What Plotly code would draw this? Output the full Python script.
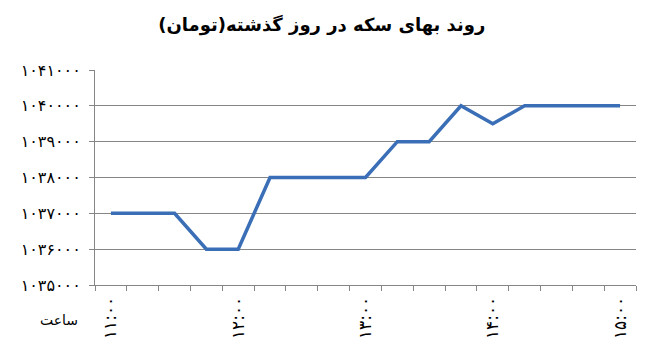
import plotly.graph_objects as go

times = ["11:00", "11:15", "11:30", "11:45", "12:00", "12:15", "12:30", "12:45",
         "13:00", "13:15", "13:30", "13:45", "14:00", "14:15", "14:30", "14:45", "15:00"]
prices = [1037000, 1037000, 1037000, 1036000, 1036000, 1038000, 1038000, 1038000,
          1038000, 1039000, 1039000, 1040000, 1039500, 1040000, 1040000, 1040000, 1040000]
y_ticks = [1035000, 1036000, 1037000, 1038000, 1039000, 1040000, 1041000]
title = "روند بهای سکه در روز گذشته(تومان)"
x_title = "ساعت"

fa = str.maketrans("0123456789", "۰۱۲۳۴۵۶۷۸۹")
def to_fa(s):
    return str(s).translate(fa)

xs = list(range(len(times)))
label_idx = xs[::4]

fig = go.Figure()
fig.add_trace(go.Scatter(x=xs, y=prices, mode="lines",
                         line=dict(color="#3A6EB6", width=3.5), hoverinfo="skip"))

fig.update_layout(
    width=650, height=351,
    margin=dict(l=95, r=14, t=70, b=66),
    paper_bgcolor="white", plot_bgcolor="white",
    showlegend=False,
    title=dict(text="<b>" + title + "</b>", x=0.495, xanchor="center", y=0.93, yanchor="middle",
               font=dict(family="DejaVu Sans", size=18, color="#000000")),
    font=dict(family="DejaVu Sans", color="#000000"),
)
fig.update_xaxes(
    range=[-0.5, len(times) - 0.5],
    tickmode="array", tickvals=label_idx,
    ticktext=[to_fa(times[i]) for i in label_idx],
    tickangle=-90, ticks="", tickfont=dict(size=17, family="DejaVu Sans"),
    ticklabelstandoff=4,
    showgrid=False, zeroline=False, automargin=False,
    showline=True, linecolor="#868686", linewidth=1,
    minor=dict(tickvals=[i - 0.5 for i in range(len(times) + 1)], ticks="outside",
               ticklen=5, tickcolor="#868686", showgrid=False),
)
fig.update_yaxes(
    range=[y_ticks[0], y_ticks[-1]],
    tickmode="array", tickvals=y_ticks, ticktext=[to_fa(v) for v in y_ticks],
    ticks="outside", ticklen=5, tickcolor="#868686",
    tickfont=dict(size=16, family="DejaVu Sans"), automargin=False,
    ticklabelstandoff=5,
    showgrid=True, gridcolor="#868686", gridwidth=1,
    zeroline=False, showline=True, linecolor="#868686", linewidth=1,
)
fig.add_annotation(text=x_title, xref="paper", yref="paper", x=-0.027, y=-0.165,
                   xanchor="right", yanchor="middle", showarrow=False,
                   font=dict(size=14, family="DejaVu Sans", color="#000000"))

fig.write_html("out.html")
